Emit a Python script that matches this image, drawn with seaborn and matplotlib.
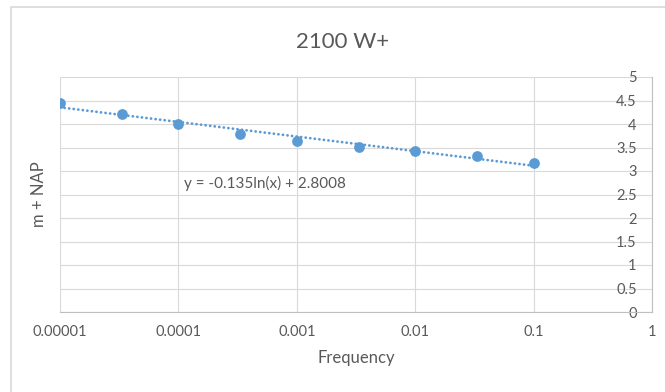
import numpy as np
import pandas as pd
import matplotlib
matplotlib.use("Agg")
import matplotlib.pyplot as plt
from matplotlib.patches import Rectangle
import seaborn as sns

# Data
frequency = [1e-5, 3.33e-5, 1e-4, 3.33e-4, 1e-3, 3.33e-3, 1e-2, 3.33e-2, 1e-1]
level = [4.44, 4.21, 4.01, 3.79, 3.63, 3.52, 3.43, 3.32, 3.18]
trend_slope = -0.135
trend_intercept = 2.8008
x_ticks = [1e-5, 1e-4, 1e-3, 1e-2, 1e-1, 1]
x_tick_labels = ["0.00001", "0.0001", "0.001", "0.01", "0.1", "1"]
y_ticks = [0, 0.5, 1, 1.5, 2, 2.5, 3, 3.5, 4, 4.5, 5]
y_tick_labels = ["0", "0.5", "1", "1.5", "2", "2.5", "3", "3.5", "4", "4.5", "5"]
title = "2100 W+"
x_label = "Frequency"
y_label = "m + NAP"
equation = "y = -0.135ln(x) + 2.8008"

sns.set_style("white")
plt.rcParams['font.family'] = ['Lato', 'DejaVu Sans']

blue = "#5B9BD5"
grid_c = "#D9D9D9"
text_c = "#595959"

df = pd.DataFrame({"Frequency": frequency, "Level": level})
trend_x = np.logspace(np.log10(min(frequency)), np.log10(max(frequency)), 50)
trend_df = pd.DataFrame({"x": trend_x, "y": trend_slope * np.log(trend_x) + trend_intercept})

fig = plt.figure(figsize=(6.65, 3.92), dpi=100)
ax = fig.add_axes([60/665, 1-312/392, (652-60)/665, (312-77)/392])

ax.set_xscale("log")
ax.set_xlim(1e-5, 1)
ax.set_ylim(0, 5)

sns.lineplot(data=trend_df, x="x", y="y", ax=ax, color=blue,
             linewidth=2.0, linestyle=(0, (0.05, 1.6)), zorder=3)
ax.lines[-1].set_dash_capstyle("round")
sns.scatterplot(data=df, x="Frequency", y="Level", ax=ax, color=blue,
                s=60, edgecolor=blue, linewidth=0, zorder=4)

ax.set_xticks(x_ticks)
ax.set_xticklabels(x_tick_labels)
ax.xaxis.set_minor_locator(matplotlib.ticker.NullLocator())
ax.set_yticks(y_ticks)
ax.set_yticklabels(y_tick_labels)

ax.grid(True, which="major", color=grid_c, linewidth=0.8)
ax.set_axisbelow(True)

for side in ["top", "left"]:
    ax.spines[side].set_visible(False)
ax.spines["right"].set_color("#BFBFBF")
ax.spines["right"].set_linewidth(0.8)
ax.spines["bottom"].set_color("#BFBFBF")
ax.spines["bottom"].set_linewidth(0.8)

ax.yaxis.set_ticks_position("right")
ax.tick_params(axis="y", which="both", length=0, pad=-11, labelsize=10.5,
               labelcolor=text_c, labelright=True, labelleft=False)
for lab in ax.get_yticklabels():
    lab.set_horizontalalignment("right")
ax.tick_params(axis="x", which="both", length=0, pad=9, labelsize=10.5,
               labelcolor=text_c)

ax.set_xlabel(x_label, fontsize=12, color=text_c, labelpad=8)
ax.set_ylabel(y_label, fontsize=12, color=text_c, labelpad=0)
ax.yaxis.set_label_position("left")
ax.yaxis.set_label_coords(-13/592, 0.5)

ax.text(184/665, 1-183/392, equation, transform=fig.transFigure,
        fontsize=11, color=text_c, ha="left", va="center")

fig.text(343/665, 1-42/392, title, fontsize=16, color=text_c,
         ha="center", va="center")

fig.patches.append(Rectangle((11/665, -0.2), 1.5, 1.2 - 7/392,
                             transform=fig.transFigure, fill=False,
                             edgecolor="#D9D9D9", linewidth=1.2))

fig.savefig("out.png", dpi=100)
